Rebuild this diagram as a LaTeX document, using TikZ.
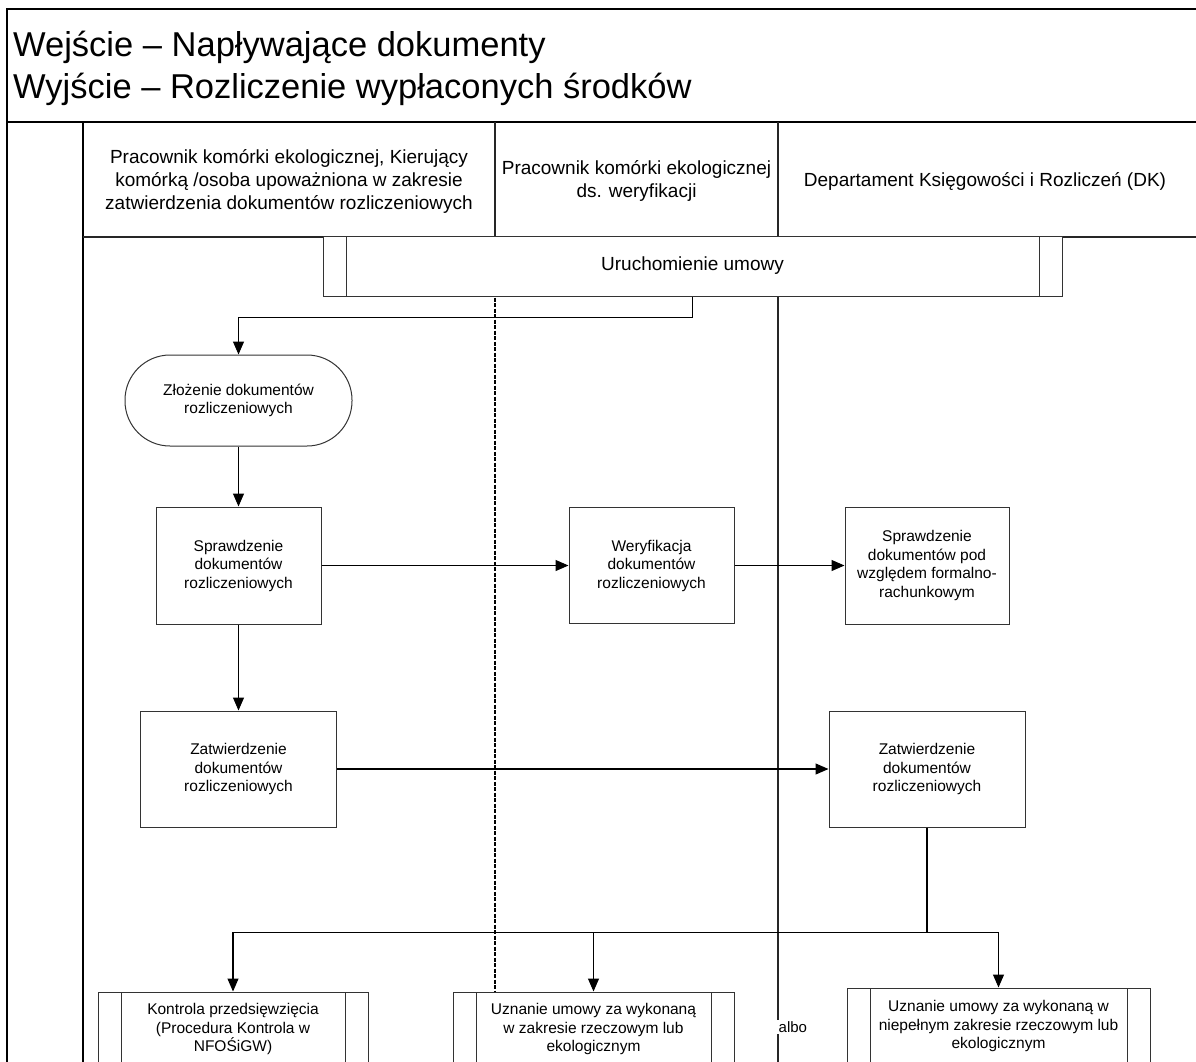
\documentclass[tikz,border=0pt]{standalone}
\usepackage{fontspec}
\setmainfont{Liberation Sans}
\usetikzlibrary{arrows.meta,calc}
\begin{document}
\begin{tikzpicture}[x=1pt,y=-1pt,
  borderline/.style={line width=1.8pt, black},
  laneline/.style={line width=1.1pt, black!85},
  procbox/.style={draw=black!80, line width=1pt, fill=white, inner sep=2pt,
    align=center, font=\fontsize{15.5}{18.5}\selectfont},
  predefbox/.style={procbox, path picture={
    \draw[black!80, line width=1pt]
      ([xshift=23pt]path picture bounding box.north west) --
      ([xshift=23pt]path picture bounding box.south west);
    \draw[black!80, line width=1pt]
      ([xshift=-23pt]path picture bounding box.north east) --
      ([xshift=-23pt]path picture bounding box.south east);}},
  headtext/.style={align=center, inner sep=0pt, font=\fontsize{19}{23}\selectfont},
  titletext/.style={anchor=base west, inner sep=0pt, font=\fontsize{34.5}{42}\selectfont},
  flowarrow/.style={line width=1.1pt, black, -{Triangle[length=13pt,width=11pt]}},
  flowline/.style={line width=1.1pt, black}
]
\clip (0,0) rectangle (1196,1061);
\fill[white] (0,0) rectangle (1196,1061);

% frame of the process sheet
\draw[borderline] (7,1070) -- (7,9) -- (1210,9);
\draw[borderline] (7,122) -- (1210,122);
\draw[borderline] (83,122) -- (83,1070);

% swimlane header grid and lane separators
\draw[laneline] (83,237) -- (1210,237);
\draw[laneline] (495,122) -- (495,237);
\draw[laneline] (778,122) -- (778,1070);
\draw[black, line width=1.1pt, dash pattern=on 4pt off 1.5pt] (495,237) -- (495,1070);

% title
\node[titletext] (title1) at (13,56) {Wejście – Napływające dokumenty};
\node[titletext] (title2) at (13,98) {Wyjście – Rozliczenie wypłaconych środków};

% lane headers
\node[headtext] (lane1) at (289,181) {Pracownik komórki ekologicznej, Kierujący\\komórką /osoba upoważniona w zakresie\\zatwierdzenia dokumentów rozliczeniowych};
\node[headtext] (lane2) at (636.5,181) {Pracownik komórki ekologicznej\\ds. weryfikacji};
\node[headtext] (lane3) at (985,181) {Departament Księgowości i Rozliczeń (DK)};

% process steps
\node[predefbox, minimum width=739pt, minimum height=60pt,
      font=\fontsize{19}{23}\selectfont] (start) at (692.5,266) {Uruchomienie umowy};
\node[procbox, rounded corners=45pt, minimum width=227pt, minimum height=91pt] (submit) at (238.5,400.5) {Złożenie dokumentów\\rozliczeniowych};
\node[procbox, minimum width=165pt, minimum height=117pt] (check) at (238.5,565.5) {Sprawdzenie\\dokumentów\\rozliczeniowych};
\node[procbox, minimum width=165pt, minimum height=116pt] (verify) at (651.5,565.5) {Weryfikacja\\dokumentów\\rozliczeniowych};
\node[procbox, minimum width=164pt, minimum height=117pt] (formal) at (927,565.5) {Sprawdzenie\\dokumentów pod\\względem formalno-\\rachunkowym};
\node[procbox, minimum width=196pt, minimum height=116pt] (approveL) at (238.5,769) {Zatwierdzenie\\dokumentów\\rozliczeniowych};
\node[procbox, minimum width=196pt, minimum height=116pt] (approveR) at (927,769) {Zatwierdzenie\\dokumentów\\rozliczeniowych};

% outcomes
\node[predefbox, minimum width=270pt, minimum height=74pt] (control) at (233,1029) {Kontrola przedsięwzięcia\\(Procedura Kontrola w\\NFOŚiGW)};
\node[predefbox, minimum width=281pt, minimum height=74pt] (fulldone) at (593.5,1029) {Uznanie umowy za wykonaną\\w zakresie rzeczowym lub\\ekologicznym};
\node[predefbox, minimum width=303pt, minimum height=76pt] (partdone) at (998.5,1026) {Uznanie umowy za wykonaną w\\niepełnym zakresie rzeczowym lub\\ekologicznym};
\node[fill=white, inner sep=1.5pt, anchor=west, font=\fontsize{15}{18}\selectfont] (alt) at (777,1027) {albo};

% connectors
\draw[flowarrow] (start.south) -- ++(0,21) -| (submit.north);
\draw[flowarrow] (submit.south) -- (check.north);
\draw[flowarrow] (check.east) -- (verify.west);
\draw[flowarrow] (verify.east) -- (formal.west);
\draw[flowarrow] (check.south) -- (approveL.north);
\draw[flowarrow] (approveL.east) -- (approveR.west);
\coordinate (split) at ($(approveR.south)+(0,105)$);
\draw[flowline] (approveR.south) -- (split);
\draw[flowarrow] (split) -| (control.north);
\draw[flowarrow] (split) -| (fulldone.north);
\draw[flowarrow] (split) -| (partdone.north);
\end{tikzpicture}
\end{document}
